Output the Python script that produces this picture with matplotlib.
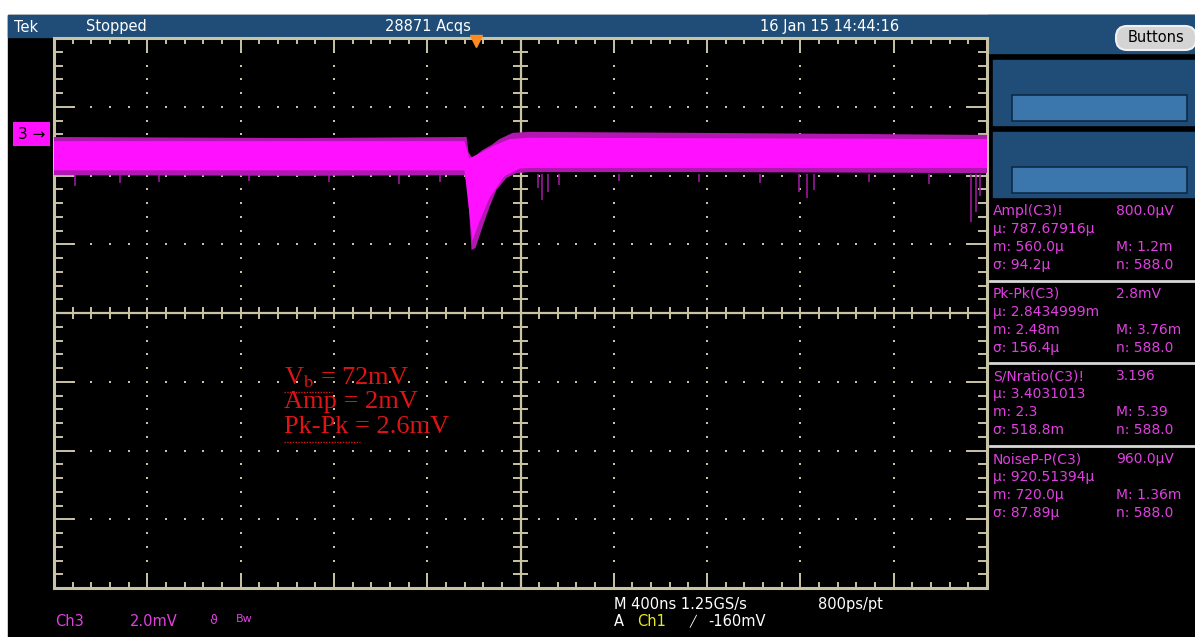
import matplotlib

matplotlib.use('Agg')

import matplotlib.pyplot as plt
from matplotlib.patches import Rectangle, FancyBboxPatch

plt.rcParams['font.family'] = ['DejaVu Sans']
plt.rcParams['mathtext.fontset'] = 'stix'

# scope settings: 10 x 8 divisions, 400 ns/div, 2 mV/div
t_div = 400
v_div = 2.0
n_hdiv = 10
n_vdiv = 8

# persistence band of Ch3, outer envelope (t in ns, v in mV)
up_t = [-2000, -947, -231, -223, -206, -163, -124, -90, -34, 39, 767, 1410, 2000]
up_v = [5.12, 5.09, 5.12, 4.68, 4.51, 4.74, 4.89, 5.06, 5.24, 5.27, 5.24, 5.21, 5.18]
lo_t = [-2000, -947, -240, -227, -210, -193, -163, -133, -103, -60, -17, 39, 767, 2000]
lo_v = [4.01, 3.99, 4.01, 3.72, 1.83, 1.89, 2.50, 3.08, 3.58, 3.93, 4.07, 4.10, 4.10, 4.07]

# bright core of the band
cup_t = [-2000, -240, -219, -176, -111, -47, 39, 2000]
cup_v = [5.00, 5.00, 4.50, 4.64, 4.88, 5.06, 5.10, 5.06]
clo_t = [-2000, -240, -206, -176, -133, -69, -4, 39, 2000]
clo_v = [4.15, 4.15, 2.10, 2.65, 3.35, 3.98, 4.20, 4.22, 4.22]

# sparse noise streaks below the band
sp_t = [-1912, -1719, -1548, -1162, -819, -519, -347, 73, 94, 116, 167, 424, 767,
        1025, 1196, 1230, 1260, 1496, 1753, 1933, 1951, 1968]
sp_v = [3.69, 3.78, 3.81, 3.84, 3.81, 3.75, 3.81, 3.64, 3.29, 3.52, 3.72, 3.84, 3.81,
        3.78, 3.52, 3.35, 3.58, 3.81, 3.75, 2.65, 2.94, 3.40]

ch3_ref = 5.2      # ground marker of Ch3 (mV)
trig_t = -190      # trigger position (ns)

header = ['Tek', 'Stopped', '28871 Acqs', '16 Jan 15 14:44:16']
meas_name = ['Ampl(C3)!', 'Pk-Pk(C3)', 'S/Nratio(C3)!', 'NoiseP-P(C3)']
meas_value = ['800.0μV', '2.8mV', '3.196', '960.0μV']
meas_mean = ['787.67916μ', '2.8434999m', '3.4031013', '920.51394μ']
meas_min = ['560.0μ', '2.48m', '2.3', '720.0μ']
meas_max = ['1.2m', '3.76m', '5.39', '1.36m']
meas_std = ['94.2μ', '156.4μ', '518.8m', '87.89μ']
meas_n = ['588.0', '588.0', '588.0', '588.0']
notes = ['V$_\\mathrm{b}$ = 72mV', 'Amp = 2mV', 'Pk-Pk = 2.6mV']

blue = '#1f4d78'
grat = '#c9c3a6'
pink = '#e040e0'

fig = plt.figure(figsize=(11.95, 6.37), dpi=100)
fig.patch.set_facecolor('white')

# bezel in pixel coordinates
ov = fig.add_axes([0, 0, 1, 1])
ov.set_xlim(0, 1195)
ov.set_ylim(637, 0)
ov.axis('off')
ov.add_patch(Rectangle((8, 15), 1187, 622, color='black'))
ov.add_patch(Rectangle((8, 15), 1187, 22, color=blue))
ov.add_patch(Rectangle((988, 15), 207, 38, color=blue))
for y0 in [60, 132]:
    ov.add_patch(Rectangle((993, y0), 202, 65, color=blue))
    ov.add_patch(Rectangle((1012, y0 + 35), 175, 26, facecolor='#3b76ad',
                           edgecolor='#0e2a45', lw=1.2))
ov.add_patch(FancyBboxPatch((1116, 26), 80, 24, boxstyle='round,pad=0,rounding_size=11',
                            facecolor='#d4d4d4', edgecolor='#f0f0f0', lw=1.5))
ov.text(1156, 38, 'Buttons', color='black', fontsize=10.5, ha='center', va='center')

for x, s in zip([14, 86, 385, 760], header):
    ov.text(x, 27, s, color='white', fontsize=10.5, va='center')

# measurement readouts
for i in range(4):
    y = 211 + i * 82.7
    ov.text(993, y, meas_name[i], color=pink, fontsize=10, va='center')
    ov.text(1116, y, meas_value[i], color=pink, fontsize=10, va='center')
    ov.text(993, y + 18, 'μ: ' + meas_mean[i], color=pink, fontsize=10, va='center')
    ov.text(993, y + 36, 'm: ' + meas_min[i], color=pink, fontsize=10, va='center')
    ov.text(1116, y + 36, 'M: ' + meas_max[i], color=pink, fontsize=10, va='center')
    ov.text(993, y + 54, 'σ: ' + meas_std[i], color=pink, fontsize=10, va='center')
    ov.text(1116, y + 54, 'n: ' + meas_n[i], color=pink, fontsize=10, va='center')
    if i > 0:
        ov.plot([990, 1195], [y - 13, y - 13], color='#d8d8d8', lw=2)

# bottom status line
ov.text(55, 621, 'Ch3', color=pink, fontsize=10.5, va='center')
ov.text(130, 621, '2.0mV', color=pink, fontsize=10.5, va='center')
ov.text(209, 621, 'ϑ', color=pink, fontsize=9, va='center')
ov.text(236, 619, 'Bw', color=pink, fontsize=8, va='center')
ov.text(614, 604, 'M 400ns 1.25GS/s', color='white', fontsize=10.5, va='center')
ov.text(818, 604, '800ps/pt', color='white', fontsize=10.5, va='center')
ov.text(614, 621, 'A', color='white', fontsize=10.5, va='center')
ov.text(637, 621, 'Ch1', color='#e8e820', fontsize=10.5, va='center')
ov.text(689, 621, '╱', color='white', fontsize=8, va='center')
ov.text(708, 621, '-160mV', color='white', fontsize=10.5, va='center')

# graticule
ax = fig.add_axes([54 / 1195, 1 - 588 / 637, (987 - 54) / 1195, (588 - 38) / 637])
xmax = t_div * n_hdiv / 2
ymax = v_div * n_vdiv / 2
ax.set_xlim(-xmax, xmax)
ax.set_ylim(-ymax, ymax)
ax.axis('off')

x_major = [-xmax + i * t_div for i in range(n_hdiv + 1)]
y_major = [-ymax + j * v_div for j in range(n_vdiv + 1)]
x_minor = [-xmax + i * t_div / 5 for i in range(n_hdiv * 5 + 1)]
y_minor = [-ymax + j * v_div / 5 for j in range(n_vdiv * 5 + 1)]

for x in x_major[1:-1]:
    if x != 0:
        ax.scatter([x] * len(y_minor), y_minor, s=3, c=grat, marker='s', lw=0)
for y in y_major[1:-1]:
    if y != 0:
        ax.scatter(x_minor, [y] * len(x_minor), s=3, c=grat, marker='s', lw=0)

ax.axhline(0, color=grat, lw=1.6)
ax.axvline(0, color=grat, lw=1.6)
ax.vlines(x_minor, -0.18, 0.18, color=grat, lw=1.4)
ax.hlines(y_minor, -34, 34, color=grat, lw=1.4)

ax.add_patch(Rectangle((-xmax, -ymax), 2 * xmax, 2 * ymax, fill=False,
                       edgecolor=grat, lw=2.2, clip_on=False))
for x in x_minor:
    ln = 0.38 if x in x_major else 0.15
    ax.plot([x, x], [ymax, ymax - ln], color=grat, lw=1.4)
    ax.plot([x, x], [-ymax, -ymax + ln], color=grat, lw=1.4)
for y in y_minor:
    ln = 86 if y in y_major else 34
    ax.plot([-xmax, -xmax + ln], [y, y], color=grat, lw=1.4)
    ax.plot([xmax, xmax - ln], [y, y], color=grat, lw=1.4)

# Ch3 trace
ax.vlines(sp_t, 4.05, sp_v, color='#9a189a', lw=1.4, alpha=0.85, zorder=3)
ax.fill(up_t + lo_t[::-1], up_v + lo_v[::-1], color='#b018b0', lw=0, zorder=4)
ax.fill(cup_t + clo_t[::-1], cup_v + clo_v[::-1], color='#ff10ff', lw=0, zorder=5)

# channel marker and trigger position
ax.annotate('3 →', xy=(-xmax, ch3_ref), xytext=(-xmax - 36 * 4.29, ch3_ref),
            fontsize=11, color='black', va='center', ha='left',
            bbox=dict(boxstyle='square,pad=0.3', fc='#ff10ff', ec='none'),
            annotation_clip=False)
ax.plot(trig_t, ymax - 0.1, marker='v', color='#ff8a1e', ms=8, clip_on=False, zorder=6)

# hand-written notes on the screenshot
for k, s in enumerate(notes):
    ax.text(-1012, -1.89 - k * 0.71, s, color='#e01414', fontsize=19,
            family='Liberation Serif', va='center', zorder=7)
ax.plot([-1012, -810], [-2.30, -2.30], color='#e01414', lw=1, ls=(0, (1, 1)))
ax.plot([-1012, -690], [-3.74, -3.74], color='#e01414', lw=1, ls=(0, (1, 1)))

fig.savefig('out.png', dpi=100, facecolor='white')
